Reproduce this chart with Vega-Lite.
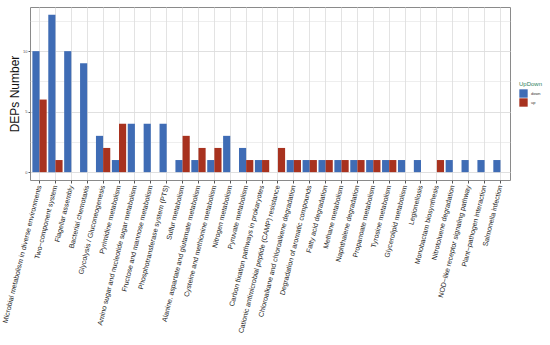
{
  "$schema": "https://vega.github.io/schema/vega-lite/v6.json",
  "width": 480,
  "height": 173,
  "autosize": {"type": "none"},
  "padding": {"left": 30, "top": 7, "right": 40, "bottom": 165},
  "background": "white",
  "config": {
    "font": "Liberation Sans",
    "view": {"stroke": "#8a8a8a", "strokeWidth": 1}
  },
  "data": {
    "values": [
      {"pathway": "Microbial metabolism in diverse environments", "UpDown": "down", "count": 10},
      {"pathway": "Microbial metabolism in diverse environments", "UpDown": "up", "count": 6},
      {"pathway": "Two−component system", "UpDown": "down", "count": 13},
      {"pathway": "Two−component system", "UpDown": "up", "count": 1},
      {"pathway": "Flagellar assembly", "UpDown": "down", "count": 10},
      {"pathway": "Flagellar assembly", "UpDown": "up", "count": 0},
      {"pathway": "Bacterial chemotaxis", "UpDown": "down", "count": 9},
      {"pathway": "Bacterial chemotaxis", "UpDown": "up", "count": 0},
      {"pathway": "Glycolysis / Gluconeogenesis", "UpDown": "down", "count": 3},
      {"pathway": "Glycolysis / Gluconeogenesis", "UpDown": "up", "count": 2},
      {"pathway": "Pyrimidine metabolism", "UpDown": "down", "count": 1},
      {"pathway": "Pyrimidine metabolism", "UpDown": "up", "count": 4},
      {"pathway": "Amino sugar and nucleotide sugar metabolism", "UpDown": "down", "count": 4},
      {"pathway": "Amino sugar and nucleotide sugar metabolism", "UpDown": "up", "count": 0},
      {"pathway": "Fructose and mannose metabolism", "UpDown": "down", "count": 4},
      {"pathway": "Fructose and mannose metabolism", "UpDown": "up", "count": 0},
      {"pathway": "Phosphotransferase system (PTS)", "UpDown": "down", "count": 4},
      {"pathway": "Phosphotransferase system (PTS)", "UpDown": "up", "count": 0},
      {"pathway": "Sulfur metabolism", "UpDown": "down", "count": 1},
      {"pathway": "Sulfur metabolism", "UpDown": "up", "count": 3},
      {"pathway": "Alanine, aspartate and glutamate metabolism", "UpDown": "down", "count": 1},
      {"pathway": "Alanine, aspartate and glutamate metabolism", "UpDown": "up", "count": 2},
      {"pathway": "Cysteine and methionine metabolism", "UpDown": "down", "count": 1},
      {"pathway": "Cysteine and methionine metabolism", "UpDown": "up", "count": 2},
      {"pathway": "Nitrogen metabolism", "UpDown": "down", "count": 3},
      {"pathway": "Nitrogen metabolism", "UpDown": "up", "count": 0},
      {"pathway": "Pyruvate metabolism", "UpDown": "down", "count": 2},
      {"pathway": "Pyruvate metabolism", "UpDown": "up", "count": 1},
      {"pathway": "Carbon fixation pathways in prokaryotes", "UpDown": "down", "count": 1},
      {"pathway": "Carbon fixation pathways in prokaryotes", "UpDown": "up", "count": 1},
      {"pathway": "Cationic antimicrobial peptide (CAMP) resistance", "UpDown": "down", "count": 0},
      {"pathway": "Cationic antimicrobial peptide (CAMP) resistance", "UpDown": "up", "count": 2},
      {"pathway": "Chloroalkane and chloroalkene degradation", "UpDown": "down", "count": 1},
      {"pathway": "Chloroalkane and chloroalkene degradation", "UpDown": "up", "count": 1},
      {"pathway": "Degradation of aromatic compounds", "UpDown": "down", "count": 1},
      {"pathway": "Degradation of aromatic compounds", "UpDown": "up", "count": 1},
      {"pathway": "Fatty acid degradation", "UpDown": "down", "count": 1},
      {"pathway": "Fatty acid degradation", "UpDown": "up", "count": 1},
      {"pathway": "Methane metabolism", "UpDown": "down", "count": 1},
      {"pathway": "Methane metabolism", "UpDown": "up", "count": 1},
      {"pathway": "Naphthalene degradation", "UpDown": "down", "count": 1},
      {"pathway": "Naphthalene degradation", "UpDown": "up", "count": 1},
      {"pathway": "Propanoate metabolism", "UpDown": "down", "count": 1},
      {"pathway": "Propanoate metabolism", "UpDown": "up", "count": 1},
      {"pathway": "Tyrosine metabolism", "UpDown": "down", "count": 1},
      {"pathway": "Tyrosine metabolism", "UpDown": "up", "count": 1},
      {"pathway": "Glycerolipid metabolism", "UpDown": "down", "count": 1},
      {"pathway": "Glycerolipid metabolism", "UpDown": "up", "count": 0},
      {"pathway": "Legionellosis", "UpDown": "down", "count": 1},
      {"pathway": "Legionellosis", "UpDown": "up", "count": 0},
      {"pathway": "Monobactam biosynthesis", "UpDown": "down", "count": 0},
      {"pathway": "Monobactam biosynthesis", "UpDown": "up", "count": 1},
      {"pathway": "Nitrotoluene degradation", "UpDown": "down", "count": 1},
      {"pathway": "Nitrotoluene degradation", "UpDown": "up", "count": 0},
      {"pathway": "NOD−like receptor signaling pathway", "UpDown": "down", "count": 1},
      {"pathway": "NOD−like receptor signaling pathway", "UpDown": "up", "count": 0},
      {"pathway": "Plant−pathogen interaction", "UpDown": "down", "count": 1},
      {"pathway": "Plant−pathogen interaction", "UpDown": "up", "count": 0},
      {"pathway": "Salmonella infection", "UpDown": "down", "count": 1},
      {"pathway": "Salmonella infection", "UpDown": "up", "count": 0}
    ]
  },
  "mark": {"type": "bar"},
  "encoding": {
    "x": {
      "field": "pathway",
      "type": "nominal",
      "sort": null,
      "scale": {"paddingInner": 0.1, "paddingOuter": 0.15},
      "axis": {
        "title": null,
        "bandPosition": 0.5,
        "grid": true,
        "gridColor": "#dcdcdc",
        "gridWidth": 0.8,
        "domain": false,
        "ticks": true,
        "tickSize": 3,
        "tickColor": "#555",
        "labelAngle": -76,
        "labelAlign": "right",
        "labelBaseline": "middle",
        "labelFontSize": 7,
        "labelColor": "#222",
        "labelPadding": 2,
        "labelOverlap": false,
        "labelLimit": 300
      }
    },
    "xOffset": {
      "field": "UpDown",
      "type": "nominal",
      "scale": {"domain": ["down", "up"], "paddingInner": 0, "paddingOuter": 0}
    },
    "y": {
      "field": "count",
      "type": "quantitative",
      "scale": {"domain": [-0.65, 13.65], "nice": false, "zero": false},
      "axis": {
        "title": "DEPs Number",
        "titleFontSize": 12,
        "titleFontWeight": "normal",
        "titleColor": "#111",
        "titlePadding": 1,
        "values": [0, 2.5, 5, 7.5, 10, 12.5],
        "labelExpr": "datum.value % 5 == 0 ? datum.label : ''",
        "labelFontSize": 4,
        "labelColor": "#555",
        "labelPadding": 1,
        "domain": false,
        "tickSize": 2,
        "tickColor": {"condition": {"test": "datum.value % 5 != 0", "value": "transparent"}, "value": "#555"},
        "grid": true,
        "gridColor": "#dcdcdc",
        "gridWidth": {"condition": {"test": "datum.value % 5 != 0", "value": 0.5}, "value": 0.9}
      }
    },
    "color": {
      "field": "UpDown",
      "type": "nominal",
      "scale": {"domain": ["down", "up"], "range": ["#3f6cb5", "#a8321f"]},
      "legend": {
        "title": "UpDown",
        "orient": "none",
        "legendX": 489,
        "legendY": 74,
        "titleFontSize": 6,
        "titleFontWeight": "normal",
        "titleColor": "#2f7f62",
        "titlePadding": 2,
        "labelFontSize": 4,
        "labelColor": "#333",
        "symbolType": "square",
        "symbolSize": 70,
        "symbolStrokeWidth": 0,
        "symbolOpacity": 1,
        "rowPadding": 0,
        "labelOffset": 3
      }
    }
  }
}
